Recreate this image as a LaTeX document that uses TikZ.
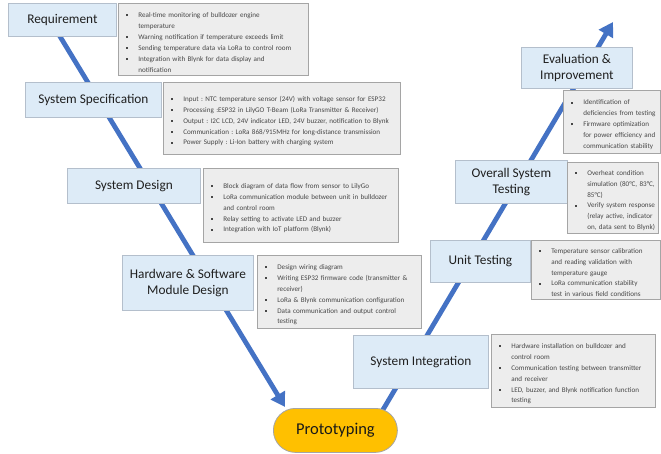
\documentclass[tikz,border=0pt]{standalone}
\usepackage{fontspec}
\setmainfont{Carlito}
\usepackage{xcolor}
\usepackage{tikz}
\usetikzlibrary{shapes, arrows.meta, positioning, calc, backgrounds}

\definecolor{stepblue}{HTML}{DDEBF7}
\definecolor{stepline}{HTML}{B4BFCC}
\definecolor{notegray}{HTML}{EDEDED}
\definecolor{noteline}{HTML}{A5A5A5}
\definecolor{flowblue}{HTML}{4472C4}
\definecolor{protoyellow}{HTML}{FFC000}

\hyphenpenalty=10000
\frenchspacing
% bullet item with hanging indent for the note boxes
\newcommand{\noteitem}{\par\hangindent=19pt\hangafter=1\noindent\makebox[19pt][l]{\hspace{7pt}\rule[1.3pt]{2pt}{2pt}}}
\newcommand{\nl}{\hfil\break}

\begin{document}
\begin{tikzpicture}[x=1pt, y=-1pt,
  stepbox/.style={draw=stepline, fill=stepblue, line width=0.8pt, anchor=north west,
    align=center, font=\fontsize{13.3}{16}\selectfont, text=black!88, inner sep=1pt},
  notebox/.style={draw=noteline, fill=notegray, line width=0.7pt, anchor=north west,
    align=left, font=\fontsize{7.1}{10.9}\selectfont, text=black!72,
    inner xsep=1pt, inner ysep=2pt},
  flow/.style={line width=4.8pt, flowblue, -{Triangle[width=16pt,length=14pt]}}]

  \useasboundingbox (0,0) rectangle (661,454);

  % Left branch: steps
  \node[stepbox, minimum width=108, minimum height=33] (req) at (8,3) {Requirement};
  \node[stepbox, minimum width=136, minimum height=35] (spec) at (25,82) {System Specification};
  \node[stepbox, minimum width=133, minimum height=35] (design) at (67,168) {System Design};
  \node[stepbox, minimum width=131, minimum height=55] (hwsw) at (122,255) {Hardware \& Software\\Module Design};

  % Left branch: notes
  \node[notebox, text width=188pt, minimum height=72] (reqnote) at (118,3) {%
    \noteitem Real-time monitoring of bulldozer engine\nl temperature
    \noteitem Warning notification if temperature exceeds limit
    \noteitem Sending temperature data via LoRa to control room
    \noteitem Integration with Blynk for data display and\nl notification\par};
  \node[notebox, text width=235pt, minimum height=72] (specnote) at (163,82) {%
    \noteitem Input : NTC temperature sensor (24V) with voltage sensor for ESP32
    \noteitem Processing :ESP32 in LilyGO T-Beam (LoRa Transmitter \& Receiver)
    \noteitem Output : I2C LCD, 24V indicator LED, 24V buzzer, notification to Blynk
    \noteitem Communication : LoRa 868/915MHz for long-distance transmission
    \noteitem Power Supply : Li-Ion battery with charging system\par};
  \node[notebox, text width=193pt, minimum height=74] (designnote) at (203,168) {%
    \noteitem Block diagram of data flow from sensor to LilyGo
    \noteitem LoRa communication module between unit in bulldozer\nl and control room
    \noteitem Relay setting to activate LED and buzzer
    \noteitem Integration with IoT platform (Blynk)\par};
  \node[notebox, text width=162pt, minimum height=73] (hwswnote) at (257,255) {%
    \noteitem Design wiring diagram
    \noteitem Writing ESP32 firmware code (transmitter \&\nl receiver)
    \noteitem LoRa \& Blynk communication configuration
    \noteitem Data communication and output control\nl testing\par};

  % Bottom
  \node[draw=noteline, fill=protoyellow, line width=0.8pt, rounded corners=22pt,
    anchor=north west, minimum width=124, minimum height=44,
    font=\fontsize{16.5}{19}\selectfont, text=black!90] (proto) at (273,408) {Prototyping};

  % Right branch: steps
  \node[stepbox, minimum width=135, minimum height=53] (integ) at (353,335) {System Integration};
  \node[stepbox, minimum width=100, minimum height=42] (unit) at (430,240) {Unit Testing};
  \node[stepbox, minimum width=112, minimum height=43] (overall) at (455,160) {Overall System\\Testing};
  \node[stepbox, minimum width=111, minimum height=41] (eval) at (521,47) {Evaluation \&\\Improvement};

  % Right branch: notes
  \node[notebox, text width=162pt, minimum height=73] (integnote) at (491,334) {%
    \noteitem Hardware installation on bulldozer and\nl control room
    \noteitem Communication testing between transmitter\nl and receiver
    \noteitem LED, buzzer, and Blynk notification function\nl testing\par};
  \node[notebox, text width=127pt, minimum height=58] (unitnote) at (531,240) {%
    \noteitem Temperature sensor calibration\nl and reading validation with\nl temperature gauge
    \noteitem LoRa communication stability\nl test in various field conditions\par};
  \node[notebox, text width=89pt, minimum height=70] (overallnote) at (567,162) {%
    \noteitem Overheat condition\nl simulation (80°C, 83°C,\nl 85°C)
    \noteitem Verify system response\nl (relay active, indicator\nl on, data sent to Blynk)\par};
  \node[notebox, text width=95pt, minimum height=63] (evalnote) at (563,90) {%
    \noteitem Identification of\nl deficiencies from testing
    \noteitem Firmware optimization\nl for power efficiency and\nl communication stability\par};

  % V-shaped flow behind the boxes
  \coordinate (vstart) at (50,20);
  \coordinate (vend) at (613,22);
  \coordinate (protoleft) at ($(proto.north west)+(12,-1)$);
  \coordinate (protoright) at ($(proto.north east)+(-15,2)$);
  \begin{scope}[on background layer]
    \draw[flow] (vstart) -- (protoleft);
    \draw[flow] (protoright) -- (vend);
  \end{scope}
\end{tikzpicture}
\end{document}
